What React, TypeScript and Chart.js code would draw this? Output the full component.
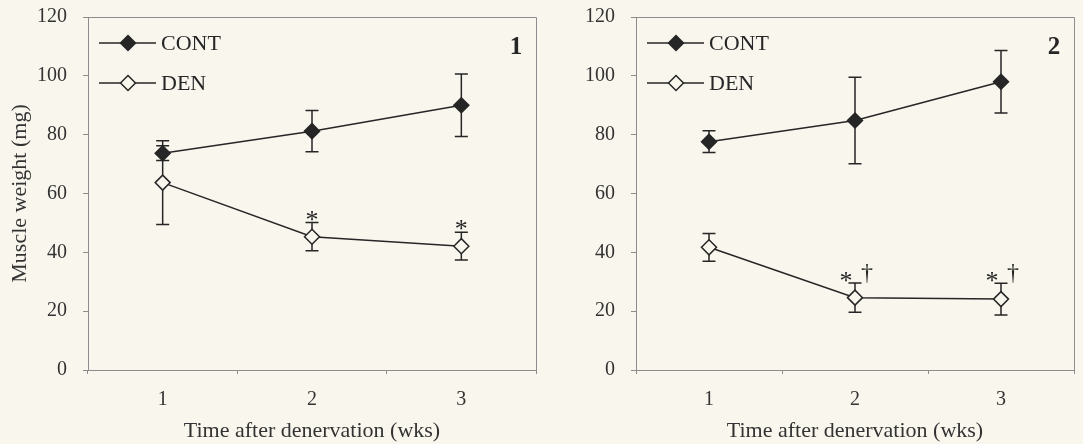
import React, { useEffect, useRef } from "react";
import { Chart, registerables } from "chart.js";

Chart.register(...registerables);

// ---- data ----
const weeks = ["1", "2", "3"];
const seriesNames = ["CONT", "DEN"];
const panelNames = ["1", "2"];
const xTitleText = "Time after denervation (wks)";
const yTitleText = "Muscle weight (mg)";

// panel 1
const cont1 = [73.7, 81.2, 90.0];
const contErr1 = [2.5, 7.0, 10.6];
const den1 = [63.7, 45.3, 42.1];
const denErr1 = [14.2, 4.8, 4.7];
const sig1 = ["", "*", "*"];

// panel 2
const cont2 = [77.6, 84.8, 98.0];
const contErr2 = [3.7, 14.7, 10.6];
const den2 = [41.7, 24.6, 24.1];
const denErr2 = [4.7, 5.0, 5.4];
const sig2 = ["", "*†", "*†"];

const BG = "#f8f6ed";
const INK = "#262626";
const AXIS = "#8c8c8c";
const FONT = "'Liberation Serif', 'Times New Roman', serif";

const decoPlugin = {
  id: "panelDeco",
  beforeDatasetsDraw(chart: any) {
    const { ctx, chartArea: ca, scales } = chart;
    const x = scales.x;
    const y = scales.y;
    ctx.save();
    // box top & right border
    ctx.strokeStyle = AXIS;
    ctx.lineWidth = 1;
    ctx.beginPath();
    ctx.moveTo(ca.left, Math.round(ca.top) + 0.5);
    ctx.lineTo(Math.round(ca.right) + 0.5, Math.round(ca.top) + 0.5);
    ctx.lineTo(Math.round(ca.right) + 0.5, ca.bottom);
    ctx.stroke();
    // error bars
    ctx.strokeStyle = INK;
    ctx.lineWidth = 1.5;
    chart.data.datasets.forEach((ds: any) => {
      const errs: number[] = ds.errors || [];
      ds.data.forEach((v: number, i: number) => {
        const e = errs[i] || 0;
        const px = x.getPixelForValue(i);
        const yt = y.getPixelForValue(v + e);
        const yb = y.getPixelForValue(v - e);
        ctx.beginPath();
        ctx.moveTo(px, yt);
        ctx.lineTo(px, yb);
        ctx.moveTo(px - 6.5, yt);
        ctx.lineTo(px + 6.5, yt);
        ctx.moveTo(px - 6.5, yb);
        ctx.lineTo(px + 6.5, yb);
        ctx.stroke();
      });
    });
    ctx.restore();
  },
  afterDatasetsDraw(chart: any) {
    const { ctx, chartArea: ca, scales } = chart;
    const x = scales.x;
    const y = scales.y;
    const o = chart.options.plugins.panelDeco;
    ctx.save();
    // legend
    chart.data.datasets.forEach((ds: any, i: number) => {
      const ly = ca.top + 26 + i * 40;
      const lx0 = ca.left + 11;
      const lx1 = ca.left + 68;
      const mx = ca.left + 40;
      ctx.strokeStyle = INK;
      ctx.lineWidth = 1.5;
      ctx.beginPath();
      ctx.moveTo(lx0, ly);
      ctx.lineTo(lx1, ly);
      ctx.stroke();
      const r = 7.5;
      ctx.beginPath();
      ctx.moveTo(mx - r, ly);
      ctx.lineTo(mx, ly - r);
      ctx.lineTo(mx + r, ly);
      ctx.lineTo(mx, ly + r);
      ctx.closePath();
      ctx.fillStyle = ds.pointBackgroundColor;
      ctx.fill();
      ctx.stroke();
      ctx.fillStyle = INK;
      ctx.font = `22px ${FONT}`;
      ctx.textAlign = "left";
      ctx.textBaseline = "middle";
      ctx.fillText(ds.label, ca.left + 73, ly + 1);
    });
    // significance marks on the DEN series
    const den = chart.data.datasets[1];
    const sig: string[] = o.sig;
    ctx.fillStyle = INK;
    ctx.textBaseline = "alphabetic";
    ctx.textAlign = "center";
    sig.forEach((s: string, i: number) => {
      if (!s) return;
      const px = x.getPixelForValue(i);
      const capY = y.getPixelForValue(den.data[i] + den.errors[i]);
      if (s.includes("†")) {
        ctx.font = `26px ${FONT}`;
        ctx.fillText("*", px - 9, capY + 6);
        ctx.font = `24px ${FONT}`;
        ctx.fillText("†", px + 12, capY - 3);
      } else {
        ctx.font = `26px ${FONT}`;
        ctx.fillText(s, px, capY + 5);
      }
    });
    // panel number
    ctx.font = `bold 25px ${FONT}`;
    ctx.textAlign = "center";
    ctx.textBaseline = "middle";
    ctx.fillText(o.panel, ca.right - 20, ca.top + 31);
    ctx.restore();
  },
};

type PanelProps = {
  left: number;
  width: number;
  yWidth: number;
  padRight: number;
  showYTitle: boolean;
  cont: number[];
  contErr: number[];
  den: number[];
  denErr: number[];
  sig: string[];
  panel: string;
};

function Panel(p: PanelProps) {
  const ref = useRef<HTMLCanvasElement | null>(null);
  useEffect(() => {
    if (!ref.current) return;
    const chart = new Chart(ref.current, {
      type: "line",
      data: {
        labels: weeks,
        datasets: [
          {
            label: seriesNames[0],
            data: p.cont,
            errors: p.contErr,
            borderColor: INK,
            borderWidth: 1.5,
            pointStyle: "rectRot",
            pointRadius: 7.5,
            pointBorderWidth: 1.5,
            pointBackgroundColor: INK,
            pointBorderColor: INK,
          } as any,
          {
            label: seriesNames[1],
            data: p.den,
            errors: p.denErr,
            borderColor: INK,
            borderWidth: 1.5,
            pointStyle: "rectRot",
            pointRadius: 7.5,
            pointBorderWidth: 1.5,
            pointBackgroundColor: BG,
            pointBorderColor: INK,
          } as any,
        ],
      },
      options: {
        animation: false,
        responsive: false,
        layout: { padding: { top: 17, right: p.padRight, bottom: 0, left: 0 } },
        plugins: {
          legend: { display: false },
          tooltip: { enabled: false },
          panelDeco: { sig: p.sig, panel: p.panel },
        } as any,
        scales: {
          x: {
            type: "category",
            offset: true,
            grid: { offset: true, drawOnChartArea: false, tickLength: 4, color: AXIS },
            border: { color: AXIS, width: 1 },
            ticks: { font: { family: FONT, size: 20 }, color: "#333", padding: 14 },
            title: {
              display: true,
              text: xTitleText,
              font: { family: FONT, size: 22 },
              color: "#333",
              padding: { top: 0, bottom: 0 },
            },
            afterFit: (s: any) => {
              s.height = 74;
              s.paddingLeft = 0;
              s.paddingRight = 0;
            },
          },
          y: {
            min: 0,
            max: 120,
            ticks: { stepSize: 20, font: { family: FONT, size: 20 }, color: "#333", padding: 16 },
            grid: { drawOnChartArea: false, tickLength: 5, color: AXIS },
            border: { color: AXIS, width: 1 },
            title: {
              display: p.showYTitle,
              text: yTitleText,
              font: { family: FONT, size: 22 },
              color: "#333",
              padding: { top: 7, bottom: 0 },
            },
            afterFit: (s: any) => {
              s.width = p.yWidth;
              s.paddingTop = 0;
              s.paddingBottom = 0;
            },
          },
        },
      } as any,
      plugins: [decoPlugin],
    });
    return () => chart.destroy();
  }, []);
  return (
    <canvas
      ref={ref}
      width={p.width}
      height={444}
      style={{ position: "absolute", left: p.left, top: 0, width: p.width, height: 444 }}
    />
  );
}

export default function App() {
  return (
    <div
      style={{
        position: "absolute",
        left: 0,
        top: 0,
        width: 1083,
        height: 444,
        background: BG,
        overflow: "hidden",
      }}
    >
      <Panel
        left={0}
        width={560}
        yWidth={88}
        padRight={24}
        showYTitle={true}
        cont={cont1}
        contErr={contErr1}
        den={den1}
        denErr={denErr1}
        sig={sig1}
        panel={panelNames[0]}
      />
      <Panel
        left={560}
        width={523}
        yWidth={76}
        padRight={9}
        showYTitle={false}
        cont={cont2}
        contErr={contErr2}
        den={den2}
        denErr={denErr2}
        sig={sig2}
        panel={panelNames[1]}
      />
    </div>
  );
}
